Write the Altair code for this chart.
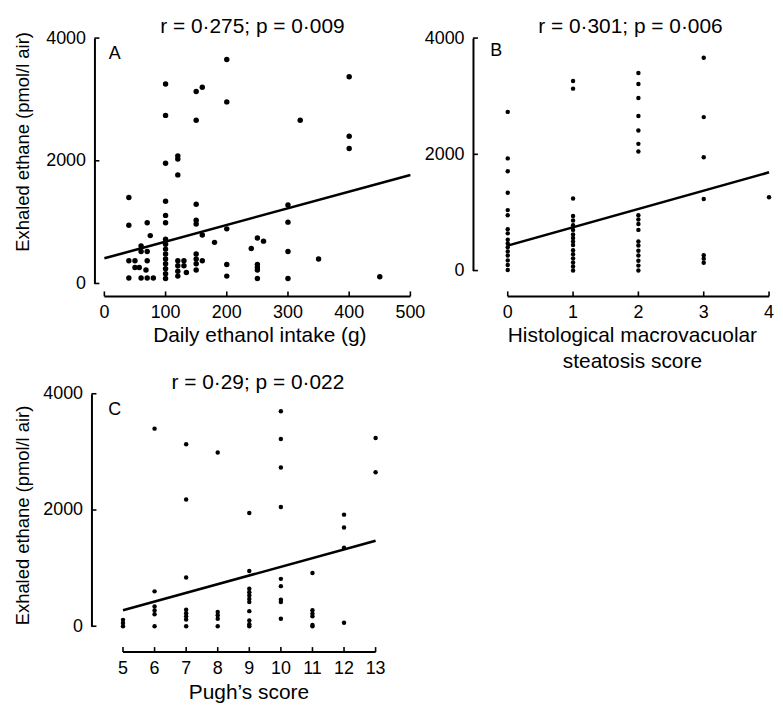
import altair as alt
import pandas as pd

FONT = "Liberation Sans"
TICK_FS = 18
TITLE_FS = 21
XTITLE_FS = 21
YTITLE_FS = 18.5
Y_TITLE = "Exhaled ethane (pmol/l air)"

# ---- Panel A: daily ethanol intake (g) vs exhaled ethane
a_intake = [40, 40, 40, 40, 50, 50, 60, 60, 57, 60, 70, 70, 70, 68, 70, 75, 80,
            100, 100, 100, 100, 100, 100, 100, 100, 100, 100, 100, 100, 100, 100, 100,
            120, 120, 120, 120, 120, 120, 120,
            130, 130, 134,
            150, 150, 150, 150, 150, 150, 150, 150, 150,
            160, 160, 160,
            180,
            200, 200, 200, 200, 200,
            240,
            250, 250, 250, 250, 250,
            260,
            300, 300, 300, 300,
            320, 350, 400, 400, 400, 450]
a_ethane = [1400, 950, 370, 90, 370, 260, 610, 520, 260, 90, 990, 520, 370, 220, 90, 780, 90,
            3250, 2740, 1960, 1340, 1110, 990, 720, 640, 560, 480, 400, 320, 240, 160, 80,
            2080, 2030, 1770, 370, 290, 200, 120,
            370, 290, 180,
            3130, 2660, 1290, 1030, 970, 480, 400, 320, 220,
            3200, 790, 370,
            670,
            3650, 2960, 890, 310, 120,
            570,
            740, 310, 260, 220, 80,
            690,
            1280, 1000, 520, 80,
            2660, 400, 3370, 2400, 2200, 110]
a_fit_x = [0, 500]
a_fit_y = [410, 1770]
a_ticks = [0, 100, 200, 300, 400, 500]

# ---- Panel B: histological macrovacuolar steatosis score
b_score = ([0] * 16 + [1] * 17 + [2] * 18 + [3] * 7 + [4])
b_ethane = ([2730, 1930, 1710, 1340, 1040, 950, 710, 640, 530, 465, 400, 330, 260, 175, 95, 10] +
            [3260, 3130, 1240, 940, 860, 780, 700, 620, 560, 500, 440, 350, 280, 210, 140, 70, 0] +
            [3400, 3210, 2970, 2660, 2410, 2180, 2050, 950, 880, 800, 700, 500, 430, 340, 260, 170, 85, 0] +
            [3660, 2640, 1950, 1230, 265, 205, 135] +
            [1260])
b_fit_x = [0, 4]
b_fit_y = [430, 1690]
b_ticks = [0, 1, 2, 3, 4]

# ---- Panel C: Pugh's score
c_score = ([5] * 3 + [6] * 6 + [7] * 8 + [8] * 5 + [9] * 11 + [10] * 9 + [11] * 6 + [12] * 4 + [13] * 2)
c_ethane = ([110, 55, 0] +
            [3400, 600, 340, 270, 205, 0] +
            [3130, 2180, 840, 285, 225, 170, 115, 0] +
            [2990, 245, 190, 130, 0] +
            [1950, 950, 645, 585, 530, 470, 415, 260, 100, 35, 0] +
            [3700, 3220, 2730, 2050, 815, 690, 455, 415, 130] +
            [915, 275, 215, 170, 20, 0] +
            [1920, 1700, 1350, 60] +
            [3240, 2650])
c_fit_x = [5, 13]
c_fit_y = [275, 1470]
c_ticks = [5, 6, 7, 8, 9, 10, 11, 12, 13]

y_ticks = [0, 2000, 4000]


def panel(xs, ys, fit_x, fit_y, xdom, xaxis_range, xticks, width, height,
          yoff, xoff, title, title_dx, letter, letter_pos, xtitle, xtitle_x,
          xtitle_pad, ytitle, ytitle_y, ytitle_pad, dot):
    df = pd.DataFrame({"x": xs, "y": ys})
    xscale = alt.Scale(domain=xdom, nice=False, zero=False)
    yscale = alt.Scale(domain=[0, 4000], nice=False)
    # x tick labels are drawn as a text layer (so every label is kept)
    xaxis = alt.Axis(values=xticks, domain=False, ticks=False, labels=False, grid=False,
                     offset=xoff, title=xtitle, titlePadding=xtitle_pad,
                     titleX=xtitle_x, titleFontSize=XTITLE_FS)
    yaxis = alt.Axis(values=y_ticks, ticks=False, grid=False, offset=yoff,
                     labelPadding=9, domainWidth=2, domainColor="black",
                     format="d", labelOverlap=False, labelFlush=False,
                     title=ytitle if ytitle else "", titlePadding=ytitle_pad,
                     titleY=ytitle_y, titleFontSize=YTITLE_FS)

    pts = alt.Chart(df).mark_circle(size=dot, color="black", opacity=1).encode(
        x=alt.X("x:Q", scale=xscale, axis=xaxis),
        y=alt.Y("y:Q", scale=yscale, axis=yaxis),
    )
    fit = alt.Chart(pd.DataFrame({"x": fit_x, "y": fit_y})).mark_line(
        color="black", strokeWidth=2.6).encode(x="x:Q", y="y:Q")
    xline = alt.Chart(pd.DataFrame({"x": [xaxis_range[0]], "x1": [xaxis_range[1]]})).mark_rule(
        color="black", strokeWidth=2).encode(
        x="x:Q", x2="x1:Q", y=alt.value(height + xoff))
    tick_df = pd.DataFrame({"x": xticks, "lbl": [str(v) for v in xticks]})
    xt = alt.Chart(tick_df).mark_rule(color="black", strokeWidth=1.6).encode(
        x="x:Q", y=alt.value(height + xoff), y2=alt.value(height + xoff - 5))
    xl = alt.Chart(tick_df).mark_text(
        font=FONT, fontSize=TICK_FS, color="black", align="center", baseline="top").encode(
        x="x:Q", y=alt.value(height + xoff + 8), text="lbl:N")
    yt = alt.Chart(pd.DataFrame({"y": y_ticks})).mark_rule(color="black", strokeWidth=1.6).encode(
        y="y:Q", x=alt.value(-yoff), x2=alt.value(-yoff + 5))
    lab = alt.Chart(pd.DataFrame({"t": [letter]})).mark_text(
        font=FONT, fontSize=18, color="black", align="center", baseline="middle").encode(
        x=alt.value(letter_pos[0]), y=alt.value(letter_pos[1]), text="t:N")
    return alt.layer(pts, fit, xline, xt, xl, yt, lab).properties(
        width=width, height=height,
        title=alt.TitleParams(title, font=FONT, fontSize=TITLE_FS, fontWeight="normal",
                              color="black", offset=-8, dx=title_dx, frame="group",
                              anchor="middle"),
    )


A = panel(a_intake, a_ethane, a_fit_x, a_fit_y, [0, 500], [0, 500],
          a_ticks, 308, 247, 10, 13,
          "r = 0·275; p = 0·009", -5, "A", (10.5, 16),
          "Daily ethanol intake (g)", 156, 28, Y_TITLE, 104, 13, 30)

B = panel(b_score, b_ethane, b_fit_x, b_fit_y, [0, 4], [0, 4],
          b_ticks, 263, 234, 35, 26,
          "r = 0·301; p = 0·006", -8, "B", (-11.5, 13),
          ["Histological macrovacuolar", "steatosis score"], 125, 28, None, 117, 13, 20)

C = panel(c_score, c_ethane, c_fit_x, c_fit_y, [4.41, 13], [5, 13],
          c_ticks, 273, 234, 13, 26,
          "r = 0·29; p = 0·022", 18, "C", (10.3, 16),
          "Pugh’s score", 145, 30, Y_TITLE, 122, 10, 20)

chart = alt.concat(A, B, C, columns=2, bounds="flush",
                   spacing={"row": 111, "column": 98}).properties(
    padding={"left": 5, "top": 6, "right": 0, "bottom": 0}
).configure_view(stroke=None).configure_axis(
    labelFont=FONT, titleFont=FONT, labelFontSize=TICK_FS,
    titleFontWeight="normal", labelColor="black", titleColor="black",
    titleLineHeight=27,
)

chart.save("out.html", embed_options={"renderer": "svg", "actions": False})
